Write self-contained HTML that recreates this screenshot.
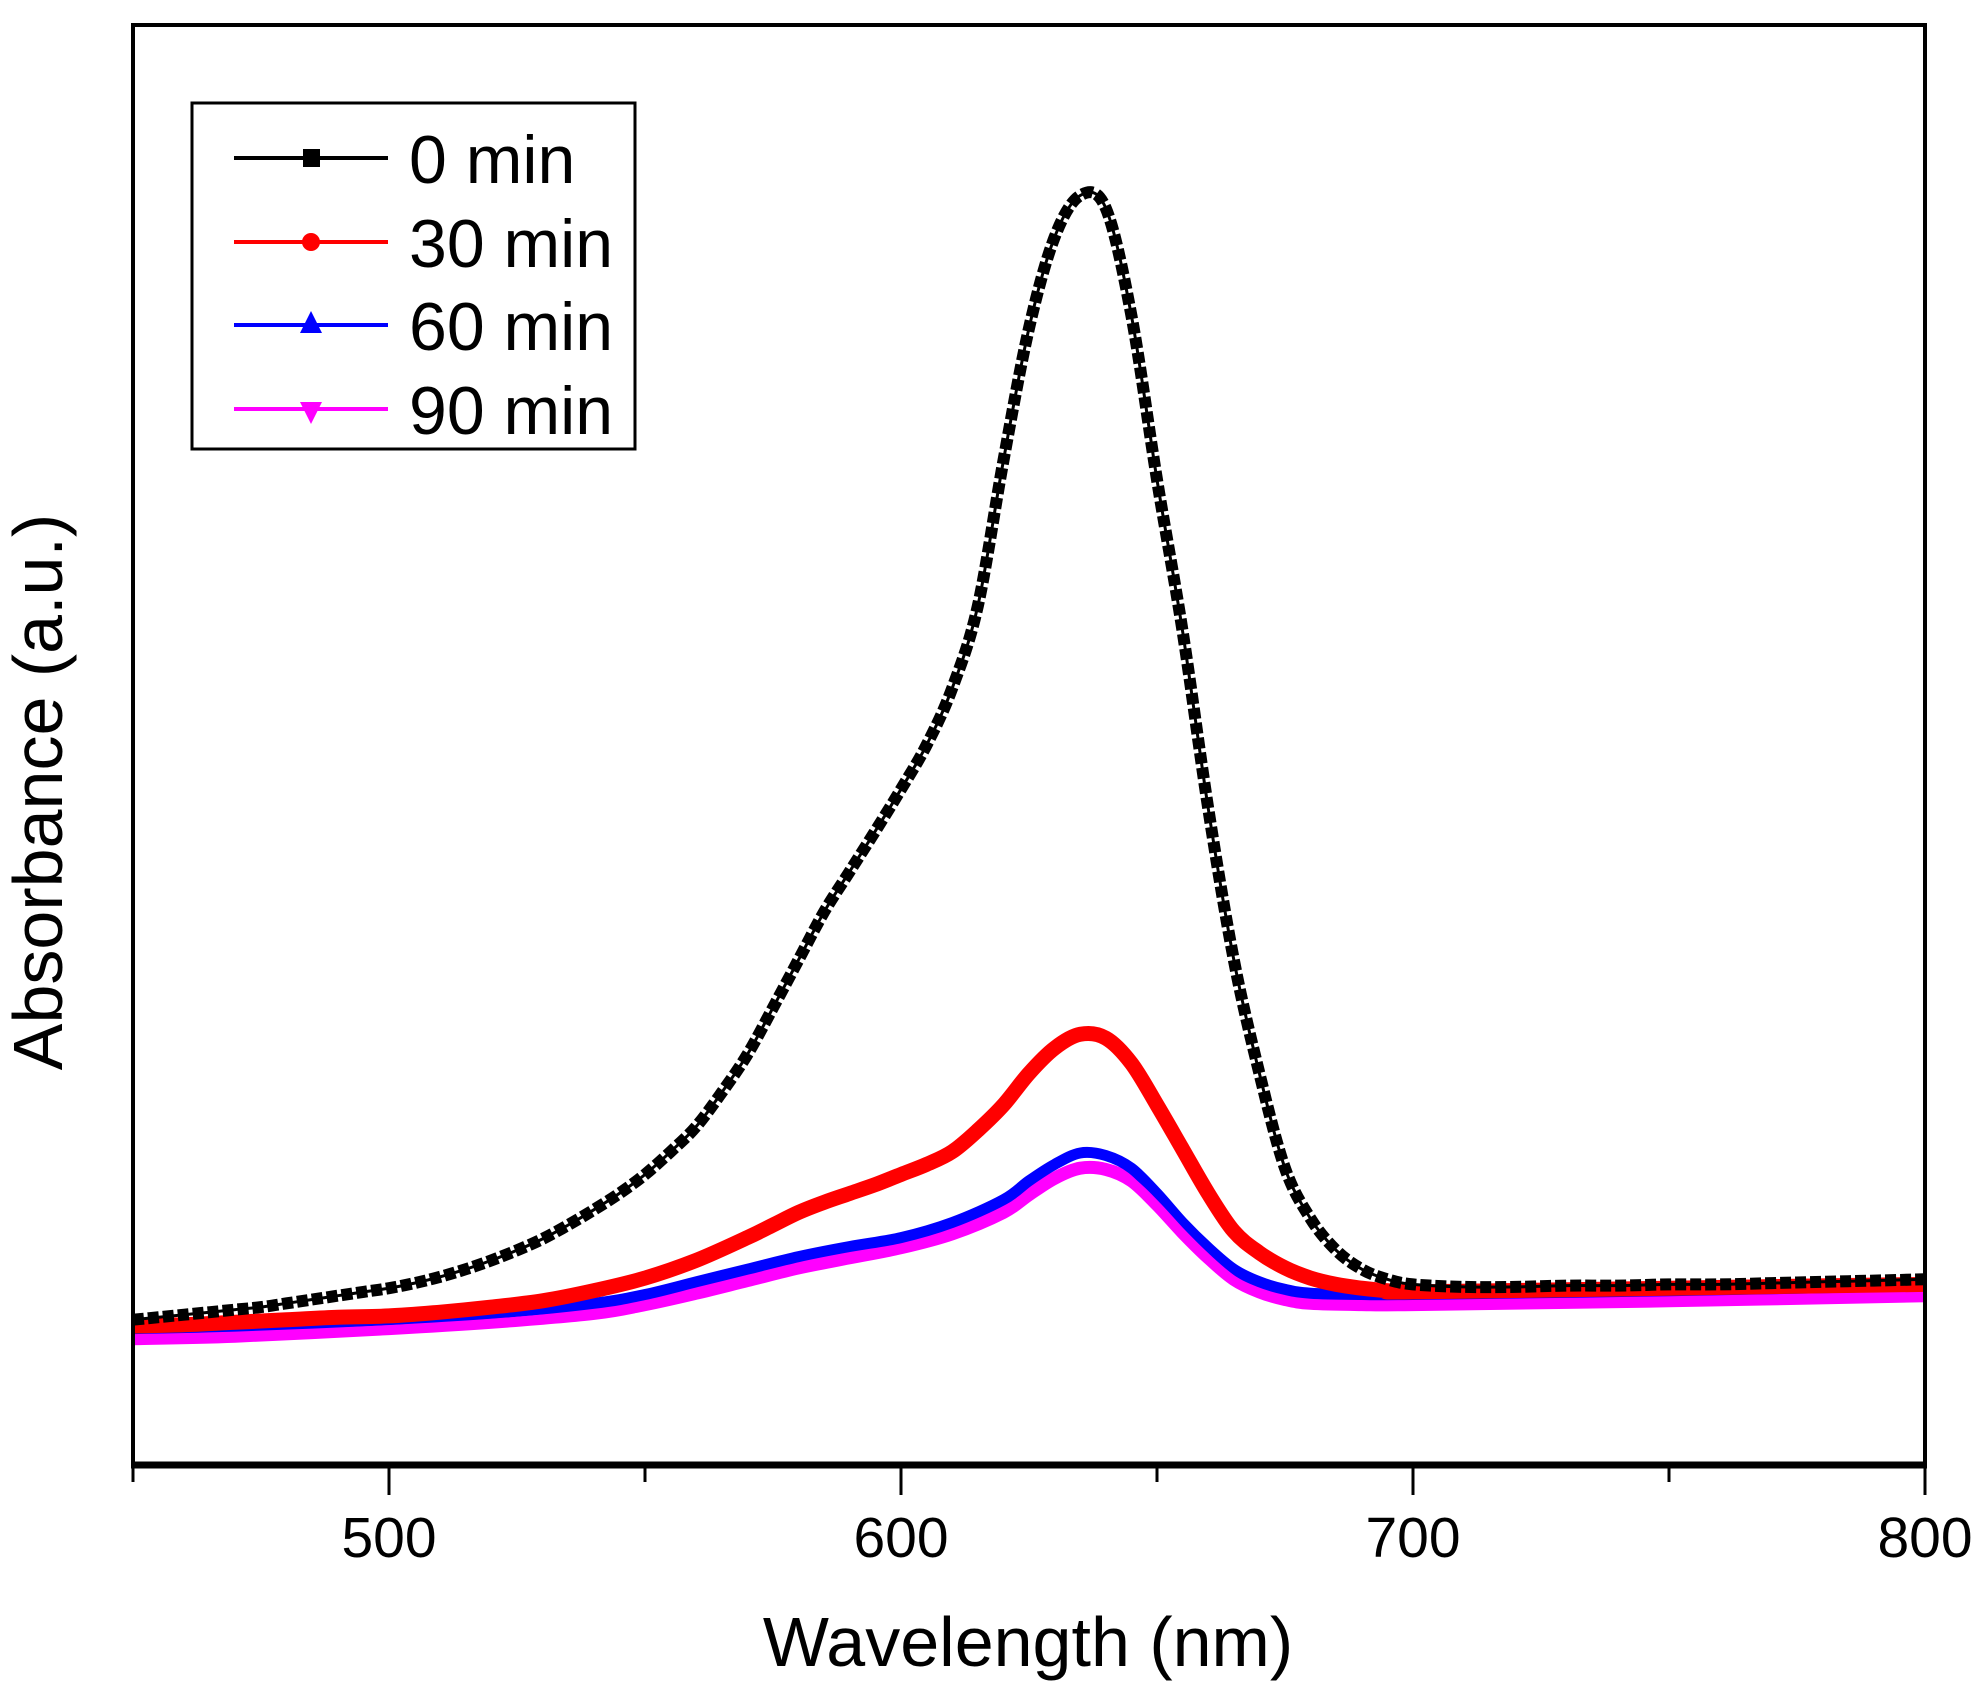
<!DOCTYPE html>
<html><head><meta charset="utf-8"><style>
body{margin:0;background:#fff;}
svg{display:block;font-family:"Liberation Sans",sans-serif;}
</style></head><body>
<svg id="chart" width="1984" height="1689" viewBox="0 0 1984 1689">
<rect x="0" y="0" width="1984" height="1689" fill="#fff"/>
<g id="series"></g>
<g id="axes"></g>
<g id="legend"></g>
</svg>
<script>
const wl5 = [450,455,460,465,470,475,480,485,490,495,500,505,510,515,520,525,530,535,540,545,550,555,560,565,570,575,580,585,590,595,600,605,610,615,620,625,630,635,640,645,650,655,660,665,670,675,680,685,690,695,700,710,720,730,740,750,760,770,780,790,800];
const abs0 = [1.15,1.17,1.19,1.21,1.23,1.25,1.28,1.31,1.34,1.37,1.40,1.44,1.49,1.55,1.62,1.70,1.79,1.90,2.02,2.15,2.30,2.48,2.68,2.95,3.25,3.62,4.00,4.38,4.70,5.02,5.35,5.70,6.15,6.80,7.95,9.00,9.72,10.05,9.95,9.10,7.80,6.60,5.20,4.00,3.10,2.35,1.95,1.70,1.55,1.47,1.43,1.41,1.41,1.42,1.42,1.43,1.43,1.44,1.45,1.46,1.47];
const wlB = [450,460,470,480,490,500,510,520,530,540,550,560,570,575,580,585,590,595,600,605,610,615,620,625,630,635,640,645,650,655,660,665,670,675,680,685,690,695,700,750,800];
const abs30 = [1.10,1.11,1.13,1.15,1.17,1.18,1.21,1.25,1.30,1.38,1.48,1.62,1.80,1.90,2.00,2.08,2.15,2.22,2.30,2.38,2.48,2.65,2.85,3.10,3.30,3.41,3.38,3.18,2.85,2.50,2.15,1.85,1.68,1.56,1.48,1.43,1.40,1.38,1.37,1.40,1.43];
const wlC = [450,470,500,520,540,550,560,570,580,590,600,610,620,625,630,635,640,645,650,655,660,665,670,675,680,690,700,750,800];
const abs60 = [1.08,1.10,1.15,1.20,1.28,1.35,1.45,1.55,1.65,1.73,1.80,1.92,2.10,2.25,2.38,2.47,2.45,2.35,2.15,1.92,1.72,1.55,1.45,1.39,1.36,1.35,1.35,1.38,1.42];
const abs90 = [1.00,1.02,1.08,1.13,1.20,1.27,1.36,1.46,1.56,1.64,1.72,1.83,2.00,2.14,2.27,2.35,2.34,2.25,2.06,1.84,1.64,1.47,1.37,1.31,1.28,1.27,1.27,1.30,1.34];
const xTicks = [500,600,700,800];
const xMinor = [450,550,650,750];

const X0=133,X1=1925,Y0=1465,Y1=25;
const xs = v => X0 + (v-450)/(800-450)*(X1-X0);
const ys = v => Y0 - v/11.4*(Y0-Y1);
const NS="http://www.w3.org/2000/svg";
function mk(tag, attrs, parent){const e=document.createElementNS(NS,tag);for(const k in attrs)e.setAttribute(k,attrs[k]);parent.appendChild(e);return e;}
const sg=document.getElementById('series');
function path(xa, ya){
  const P=xa.map((x,i)=>[xs(x),ys(ya[i])]);
  let d='M'+P[0][0].toFixed(1)+','+P[0][1].toFixed(1);
  for(let i=0;i<P.length-1;i++){
    const p0=P[Math.max(0,i-1)],p1=P[i],p2=P[i+1],p3=P[Math.min(P.length-1,i+2)];
    const c1=[p1[0]+(p2[0]-p0[0])/6,p1[1]+(p2[1]-p0[1])/6];
    const c2=[p2[0]-(p3[0]-p1[0])/6,p2[1]-(p3[1]-p1[1])/6];
    d+=' C'+c1.map(v=>v.toFixed(1)).join(',')+' '+c2.map(v=>v.toFixed(1)).join(',')+' '+p2[0].toFixed(1)+','+p2[1].toFixed(1);
  }
  return d;
}

let p;
p=mk('path',{d:path(wlC,abs90),fill:'none',stroke:'#ff00ff','stroke-width':13,'stroke-linejoin':'round'},sg);


p=mk('path',{d:path(wlC,abs60),fill:'none',stroke:'#0000ff','stroke-width':11,'stroke-linejoin':'round'},sg);


p=mk('path',{d:path(wlC,abs90),fill:'none',stroke:'#ff00ff','stroke-width':7,'stroke-linejoin':'round'},sg);


p=mk('path',{d:path(wlB,abs30),fill:'none',stroke:'#ff0000','stroke-width':15,'stroke-linejoin':'round'},sg);


p=mk('path',{d:path(wl5,abs0),fill:'none',stroke:'#000','stroke-width':3},sg);


p=mk('path',{d:path(wl5,abs0),fill:'none',stroke:'#000','stroke-width':12,'stroke-dasharray':'11 4'},sg);



const ag=document.getElementById('axes');
let a;
a=mk('rect',{x:X0,y:Y1,width:X1-X0,height:Y0-Y1,fill:'none',stroke:'#000','stroke-width':4},ag);


a=mk('line',{x1:X0-2,y1:Y0,x2:X1+2,y2:Y0,stroke:'#000','stroke-width':7},ag);


xTicks.forEach(t=>{
  const l=mk('line',{x1:xs(t),y1:Y0,x2:xs(t),y2:Y0+30,stroke:'#000','stroke-width':3},ag);
  
  
  const tx=mk('text',{x:xs(t),y:1557,'font-size':57,'text-anchor':'middle'},ag);
  tx.textContent=t;
  
  
});
xMinor.forEach(t=>{
  const l=mk('line',{x1:xs(t),y1:Y0,x2:xs(t),y2:Y0+17,stroke:'#000','stroke-width':3},ag);
  
  
});
a=mk('text',{x:1028,y:1666,'font-size':70,'text-anchor':'middle'},ag);
a.textContent='Wavelength (nm)';


a=mk('text',{x:0,y:0,'font-size':70,'text-anchor':'middle',transform:'translate(62,792) rotate(-90)'},ag);
a.textContent='Absorbance (a.u.)';



const lg=document.getElementById('legend');
a=mk('rect',{x:192,y:103,width:443,height:346,fill:'#fff',stroke:'#000','stroke-width':3},lg);


const legNames=['0 min','30 min','60 min','90 min'];
const legColors=['#000','#ff0000','#0000ff','#ff00ff'];
const rowY=[158,242,325,409];
legNames.forEach((n,i)=>{
  const y=rowY[i];
  const g=mk('g',{},lg);
  
  
  mk('line',{x1:234,y1:y,x2:388,y2:y,stroke:legColors[i],'stroke-width':4},g);
  const cx=311;
  if(i===0) mk('rect',{x:cx-8,y:y-9,width:17,height:18,fill:legColors[i]},g);
  if(i===1) mk('circle',{cx:cx,cy:y,r:9,fill:legColors[i]},g);
  if(i===2) mk('polygon',{points:`${cx},${y-14} ${cx-11},${y+8} ${cx+11},${y+8}`,fill:legColors[i]},g);
  if(i===3) mk('polygon',{points:`${cx},${y+15} ${cx-11},${y-7} ${cx+11},${y-7}`,fill:legColors[i]},g);
  const t=mk('text',{x:409,y:y+25,'font-size':68},g);
  t.textContent=n;
});
</script>
</body></html>
